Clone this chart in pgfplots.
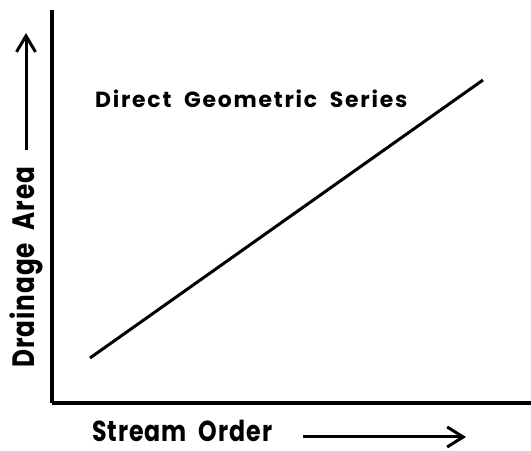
\documentclass[border=0pt]{standalone}
\usepackage{pgfplots}
\pgfplotsset{compat=1.18}
\usetikzlibrary{arrows.meta}
\usepackage{graphicx}
\usepackage{fontspec}
\setmainfont{Poppins}
\newfontfamily\labelfont{Poppins}[UprightFont={* Bold}, LetterSpace=8]
\newfontfamily\axislabelfont{Poppins}[UprightFont={* Bold}, LetterSpace=4]
\begin{document}
\begin{tikzpicture}[x=1bp,y=1bp]
\useasboundingbox (0,0) rectangle (531,451);
\begin{axis}[
  at={(52,48)}, anchor=origin,
  scale only axis, width=479bp, height=393bp,
  xmin=0, xmax=479, ymin=0, ymax=393,
  axis x line*=bottom, axis y line*=left,
  axis line style={line width=4bp, -},
  xtick=\empty, ytick=\empty,
  clip=false,
]
% drainage area grows as a direct geometric series of stream order
\addplot[black, line width=3bp] coordinates {(38,45) (431,323)};
\node[anchor=base west, font=\labelfont\fontsize{22}{26}\selectfont, inner sep=0pt]
  at (axis cs:43,295) {Direct\ \ Geometric\ \ Series};
\end{axis}
\node[anchor=base west, font=\axislabelfont\fontsize{29}{33}\selectfont, inner sep=0pt]
  at (92,9) {\scalebox{0.82}[1]{Stream\ \ Order}};
\draw[line width=3bp, -{Straight Barb[length=16bp,width=20bp,line width=3bp]}] (303,14) -- (466,14);
\node[anchor=west, rotate=90, font=\axislabelfont\fontsize{31}{35}\selectfont, inner sep=0pt]
  at (26,83) {\scalebox{0.8}[1]{Drainage\ \ Area}};
\draw[line width=3bp, -{Straight Barb[length=16bp,width=19bp,line width=3bp]}] (26,301) -- (26,418);
\end{tikzpicture}
\end{document}
